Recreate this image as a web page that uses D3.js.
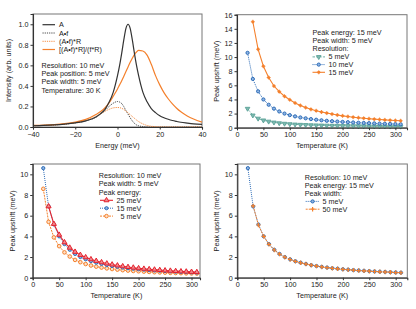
<!DOCTYPE html>
<head>
<meta charset="utf-8">
<title>Peak upshift</title>
<script type="text/javascript" src="https://d3js.org/d3.v7.min.js"></script>
<style>
    body { margin: 0; background: #fff; }
    text { font-family: "Liberation Sans", Arial, sans-serif; fill: #222; }
</style>
</head>
<body>
<div id="my_dataviz"></div>
<script>

    // ---- panel a : spectra ----
    var energy = [-40,-35,-30,-25,-20,-15,-10,-8,-6,-4,-2,0,1,2,3,4,5,6,7,8,9,10,12,14,16,18,20,22,24,26,28,30,33,36,40];
    var specA    = [.012,.015,.02,.028,.04,.06,.1,.13,.17,.24,.34,.5,.6,.72,.85,.96,1.0,.96,.85,.72,.6,.5,.34,.245,.18,.14,.11,.09,.075,.063,.054,.046,.038,.031,.025];
    var specAf   = [.012,.015,.02,.028,.04,.06,.098,.125,.16,.2,.232,.248,.243,.228,.198,.16,.125,.09,.06,.036,.02,.012,.004,.001,0,0,0,0,0,0,0,0,0,0,0];
    var specAfR  = [.012,.015,.02,.028,.042,.065,.104,.128,.152,.172,.186,.19,.188,.182,.17,.155,.138,.12,.102,.085,.068,.053,.03,.015,.007,.003,.001,0,0,0,0,0,0,0,0];
    var specNorm = [.015,.018,.023,.032,.047,.074,.124,.15,.185,.235,.3,.37,.41,.45,.495,.54,.585,.63,.67,.705,.73,.745,.74,.70,.61,.50,.41,.335,.275,.225,.183,.148,.108,.078,.048];

    // ---- temperatures ----
    var temps20 = d3.range(20, 311, 10);
    var temps30 = d3.range(30, 311, 10);

    // panel b : resolution series (energy 15, width 5)
    var res5  = [2.7,1.75,1.3,1.05,.88,.75,.65,.58,.52,.47,.43,.4,.37,.35,.33,.31,.29,.28,.26,.25,.24,.23,.22,.21,.2,.2,.19,.18,.18,.17];
    var res10 = [10.6,6.9,5.15,4.0,3.25,2.7,2.3,2.0,1.78,1.6,1.45,1.33,1.22,1.13,1.05,.98,.92,.87,.82,.78,.74,.7,.67,.64,.61,.58,.56,.54,.51,.49];
    var res15 = [15.0,11.1,8.7,7.1,5.9,5.1,4.45,3.95,3.5,3.15,2.85,2.6,2.4,2.22,2.07,1.93,1.8,1.68,1.58,1.49,1.41,1.34,1.27,1.21,1.16,1.11,1.06,1.02,.98];

    // panel c : peak energy series (res 10, width 5)
    var en25 = [6.9,5.2,4.15,3.42,2.9,2.5,2.2,1.97,1.78,1.62,1.49,1.37,1.27,1.18,1.1,1.03,.97,.91,.86,.82,.78,.74,.7,.67,.64,.61,.59,.56,.54];
    var en15 = res10;
    var en5  = [8.6,5.4,3.9,3.05,2.45,2.05,1.72,1.5,1.32,1.18,1.07,.98,.9,.84,.78,.73,.69,.65,.62,.59,.56,.53,.51,.49,.47,.45,.44,.42,.41,.4];

    // panel d : peak width series (res 10, energy 15)
    var wid5  = res10;
    var wid50 = [6.95,5.1,4.0,3.22,2.68,2.28,1.98,1.76,1.58,1.44,1.32,1.21,1.12,1.04,.97,.91,.86,.81,.77,.73,.69,.66,.63,.6,.57,.55,.53,.5,.48];

    var orange = "#f4802c", blue = "#2e6db8", teal = "#5aa297", red = "#e5222d", dark = "#333";
    var fs = 7.2;

    var svg = d3.select("#my_dataviz").append("svg")
        .attr("width", 416).attr("height", 309);

    function frame(x, y) {
        var x0 = x.range()[0], x1 = x.range()[1], y0 = y.range()[0], y1 = y.range()[1];
        svg.append("rect").attr("x", x0).attr("y", y1).attr("width", x1 - x0).attr("height", y0 - y1)
            .attr("fill", "none").attr("stroke", "#777").attr("stroke-width", 1);
    }

    function axes(x, y, xt, yt, yfmt, xlab, ylab, xlabY, ylabX) {
        var gx = svg.append("g").attr("transform", "translate(0," + y.range()[0] + ")")
            .call(d3.axisBottom(x).tickValues(xt).tickSize(2.5).tickPadding(2));
        var gy = svg.append("g").attr("transform", "translate(" + x.range()[0] + ",0)")
            .call(d3.axisLeft(y).tickValues(yt).tickSize(2.5).tickPadding(2).tickFormat(yfmt));
        [gx, gy].forEach(function(g) {
            g.select(".domain").attr("stroke", dark).attr("stroke-width", 1.1);
            g.selectAll(".tick line").attr("stroke", dark);
            g.selectAll("text").style("font-size", fs + "px").style("font-family", "Liberation Sans, Arial, sans-serif").attr("fill", "#222");
        });
        svg.append("text").attr("x", (x.range()[0] + x.range()[1]) / 2).attr("y", xlabY)
            .attr("text-anchor", "middle").style("font-size", fs + "px").text(xlab);
        svg.append("text").attr("transform", "rotate(-90)")
            .attr("x", -(y.range()[0] + y.range()[1]) / 2).attr("y", ylabX)
            .attr("text-anchor", "middle").style("font-size", fs + "px").text(ylab);
    }

    function series(x, y, xs, ys, color, dash, width, marker) {
        var pts = xs.map(function(t, i) { return [t, ys[i]]; });
        var line = d3.line().x(function(d) { return x(d[0]); }).y(function(d) { return y(d[1]); })
            .curve(marker ? d3.curveLinear : d3.curveMonotoneX);
        svg.append("path").datum(pts).attr("d", line).attr("fill", "none")
            .attr("stroke", color).attr("stroke-width", width).attr("stroke-dasharray", dash);
        if (marker) {
            svg.selectAll(null).data(pts).enter().append("g")
                .attr("transform", function(d) { return "translate(" + x(d[0]) + "," + y(d[1]) + ")"; })
                .each(function() { marker(d3.select(this)); });
        }
    }

    // markers
    function mTriDown(g) { g.append("path").attr("d", d3.symbol(d3.symbolTriangle, 9)()).attr("transform", "rotate(180)")
        .attr("fill", "#7fbab0").attr("stroke", teal).attr("stroke-width", 0.9); }
    function mCircle(g) { g.append("circle").attr("r", 1.6).attr("fill", "#8fb4e2").attr("stroke", blue).attr("stroke-width", 1); }
    function mSquare(g) { g.append("path").attr("d", d3.symbol(d3.symbolSquare, 6)()).attr("fill", orange);
        g.append("path").attr("d", "M-2,0H2M0,-2V2").attr("stroke", orange).attr("stroke-width", 0.9); }
    function mTriUp(g) { g.append("path").attr("d", d3.symbol(d3.symbolTriangle, 11)())
        .attr("fill", "#f08a8e").attr("stroke", red).attr("stroke-width", 1); }
    function mRing(g) { g.append("circle").attr("r", 1.8).attr("fill", "#fde0c8").attr("stroke", orange).attr("stroke-width", 1); }
    function mPlus(g) { g.append("path").attr("d", "M-2.2,0H2.2M0,-2.2V2.2").attr("stroke", orange).attr("stroke-width", 1.2); }

    function legendRow(x0, x1, tx, y, label, color, dash, width, marker) {
        svg.append("line").attr("x1", x0).attr("x2", x1).attr("y1", y).attr("y2", y)
            .attr("stroke", color).attr("stroke-width", width).attr("stroke-dasharray", dash);
        if (marker) { var g = svg.append("g").attr("transform", "translate(" + (x0 + x1) / 2 + "," + y + ")"); marker(g); }
        svg.append("text").attr("x", tx).attr("y", y).attr("dy", "0.35em").style("font-size", fs + "px").text(label);
    }
    function textRows(x, ys, labels) {
        labels.forEach(function(t, i) {
            svg.append("text").attr("x", x).attr("y", ys[i]).attr("dy", "0.35em").style("font-size", fs + "px").text(t);
        });
    }

    // ===== panel a =====
    var xa = d3.scaleLinear().domain([-40, 40]).range([33, 202]);
    var ya = d3.scaleLinear().domain([0, 1.1]).range([127, 14]);
    frame(xa, ya);
    series(xa, ya, energy, specAf, dark, "1.2,1", 0.9);
    series(xa, ya, energy, specAfR, orange, "1.2,1", 0.9);
    series(xa, ya, energy, specNorm, orange, null, 1.2);
    series(xa, ya, energy, specA, dark, null, 1.2);
    axes(xa, ya, [-40, -20, 0, 20, 40], [0, .2, .4, .6, .8, 1.0], d3.format(".1f"), "Energy (meV)", "Intensity (arb. units)", 148, 11);
    legendRow(42.5, 55, 59, 24.7, "A", dark, null, 1.2);
    legendRow(42.5, 55, 59, 33, "A\u2022f", dark, "1.2,1", 0.9);
    legendRow(42.5, 55, 59, 41.3, "(A\u2022f)*R", orange, "1.2,1", 0.9);
    legendRow(42.5, 55, 59, 49.5, "[(A\u2022f)*R]/(f*R)", orange, null, 1.2);
    textRows(41.5, [65.3, 73.6, 81.9, 90.2], ["Resolution: 10 meV", "Peak position: 5 meV", "Peak width: 5 meV", "Temperature: 30 K"]);

    // ===== panel b =====
    var xb = d3.scaleLinear().domain([0, 322]).range([237, 407]);
    var yb = d3.scaleLinear().domain([0, 16]).range([127.7, 14.7]);
    frame(xb, yb);
    series(xb, yb, temps20, res5, teal, "2.5,1,0.8,1", 0.9, mTriDown);
    series(xb, yb, temps20, res10, blue, "1,1", 1, mCircle);
    series(xb, yb, temps30, res15, orange, null, 1.1, mSquare);
    axes(xb, yb, [0, 50, 100, 150, 200, 250, 300], d3.range(0, 17, 2), d3.format("d"), "Temperature (K)", "Peak upshift (meV)", 148, 219);
    textRows(312.5, [32.7, 40.8, 48.9], ["Peak energy: 15 meV", "Peak width: 5 meV", "Resolution:"]);
    legendRow(312.5, 325, 328.5, 56.9, "5 meV", teal, "2.5,1,0.8,1", 0.9, mTriDown);
    legendRow(312.5, 325, 328.5, 64.6, "10 meV", blue, "1,1", 1, mCircle);
    legendRow(312.5, 325, 328.5, 72.3, "15 meV", orange, null, 1.1, mSquare);

    // ===== panel c =====
    var xc = d3.scaleLinear().domain([0, 316]).range([32.7, 200]);
    var yc = d3.scaleLinear().domain([0, 11]).range([277.7, 164]);
    frame(xc, yc);
    series(xc, yc, temps20, en5, orange, "2,1", 1, mRing);
    series(xc, yc, temps20, en15, blue, "1,1", 1, mCircle);
    series(xc, yc, temps30, en25, red, null, 1.1, mTriUp);
    axes(xc, yc, [0, 50, 100, 150, 200, 250, 300], [0, 2, 4, 6, 8, 10], d3.format("d"), "Temperature (K)", "Peak upshift (meV)", 298, 15);
    textRows(98.7, [175.7, 183.9, 192.1], ["Resolution: 10 meV", "Peak width:  5 meV", "Peak energy:"]);
    legendRow(100, 113, 116.5, 200.3, "25 meV", red, null, 1.1, mTriUp);
    legendRow(100, 113, 116.5, 208.2, "15 meV", blue, "1,1", 1, mCircle);
    legendRow(100, 113, 116.5, 216.1, "\u00a0 5 meV", orange, "2,1", 1, mRing);

    // ===== panel d =====
    var xd = d3.scaleLinear().domain([0, 322]).range([237.3, 407.3]);
    var yd = d3.scaleLinear().domain([0, 11]).range([277.7, 164]);
    frame(xd, yd);
    series(xd, yd, temps20, wid5, blue, "1,1", 1, mCircle);
    series(xd, yd, temps30, wid50, orange, "2,1", 1, mPlus);
    axes(xd, yd, [0, 50, 100, 150, 200, 250, 300], [0, 2, 4, 6, 8, 10], d3.format("d"), "Temperature (K)", "Peak upshift (meV)", 298, 219);
    textRows(304.7, [177.7, 185.6, 193.5], ["Resolution: 10 meV", "Peak energy: 15 meV", "Peak width:"]);
    legendRow(305.7, 319.5, 322.5, 201.4, "5 meV", blue, "1,1", 1, mCircle);
    legendRow(305.7, 319.5, 322.5, 209.2, "50 meV", orange, "2,1", 1, mPlus);

</script>
</body>
